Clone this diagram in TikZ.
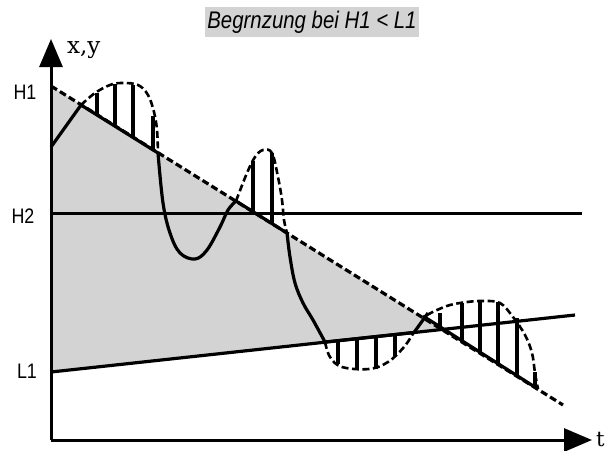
\documentclass[tikz,border=0pt]{standalone}
\usepackage{fontspec}
\usetikzlibrary{arrows.meta}
\newfontfamily\etiqfont[FakeStretch=0.85]{Liberation Sans}
\newfontfamily\axefont{DejaVu Serif}
\definecolor{fond}{RGB}{211,211,211}
\begin{document}
\begin{tikzpicture}[x=1pt, y=-1pt,
	axe/.style={line width=3pt, -{Triangle[length=28pt,width=23pt]}},
	courbe/.style={line width=3.2pt, line join=round},
	seuil/.style={line width=3.2pt, dash pattern=on 7pt off 3.5pt},
	hachure/.style={line width=3.2pt},
	etiq/.style={font=\etiqfont\fontsize{21}{23}\selectfont, inner sep=0pt}]
		\useasboundingbox (0,0) rectangle (609,450);
		%Points du diagramme
		\coordinate (O) at (51,440);
		\coordinate (Ytip) at (51,39);
		\coordinate (Xtip) at (592,440);
		\coordinate (H1) at (51,86);
		\coordinate (Hend) at (563,405);
		\coordinate (H2) at (51,213);
		\coordinate (H2end) at (582,213);
		\coordinate (L1) at (51,372);
		\coordinate (Lend) at (575,315);
		\coordinate (Cross) at (intersection of H1--Hend and L1--Lend);
		%Zone grise
		\fill[fond] (H1) -- (Cross) -- (L1) -- cycle;
		%Titre et textes
		\node[fill=fond, minimum width=214pt, minimum height=30pt, inner sep=0pt,
			font=\etiqfont\itshape\fontsize{24}{26}\selectfont] (titre) at (312,22) {Begrnzung bei H1 < L1};
		\node[anchor=base west, inner sep=0pt, font=\axefont\fontsize{23}{25}\selectfont] (xy) at (67,53) {x,y};
		\node[anchor=base west, inner sep=0pt, font=\axefont\fontsize{21}{23}\selectfont] (t) at (596,446) {t};
		\node[etiq] (lH1) at (25,92) {H1};
		\node[etiq] (lH2) at (23,216) {H2};
		\node[etiq] (lL1) at (27,371) {L1};
		%Seuils
		\draw[line width=3pt] (H2) -- (H2end);
		\draw[line width=3.2pt] (L1) -- (Lend);
		\draw[seuil] (H1) -- (Hend);
		%Signal (pointille)
		\draw[seuil, line width=2.6pt] plot[smooth, tension=0.6] coordinates {(81,105) (95,93) (110,85) (122,83) (138,85) (148,95) (154,112) (157,130) (158,153)};
		\draw[seuil, line width=2.6pt] plot[smooth, tension=0.6] coordinates {(236,201) (247,173) (255,157) (263,150) (272,153) (278,177) (282,200) (284,220) (287,233)};
		\draw[seuil, line width=2.6pt] plot[smooth, tension=0.6] coordinates {(325,342) (330,357) (342,367) (369,369) (388,362) (404,347) (414,332)};
		\draw[seuil, line width=2.6pt] plot[smooth, tension=0.6] coordinates {(427,315) (437,310) (450,305) (467,302) (483,301) (500,303) (513,317) (525,335) (532,353) (535,373) (538,389)};
		%Hachures
		\draw[hachure] (97,93) -- (97,115);
		\draw[hachure] (115,84) -- (115,126);
		\draw[hachure] (133,85) -- (133,137);
		\draw[hachure] (153,116) -- (153,149);
		\draw[hachure] (253,161) -- (253,212);
		\draw[hachure] (272,153) -- (272,224);
		\draw[hachure] (338,341) -- (338,364);
		\draw[hachure] (357,339) -- (357,369);
		\draw[hachure] (376,337) -- (376,369);
		\draw[hachure] (395,335) -- (395,356);
		\draw[hachure] (440,313) -- (440,329);
		\draw[hachure] (462,303) -- (462,342);
		\draw[hachure] (480,302) -- (480,353);
		\draw[hachure] (498,302) -- (498,364);
		\draw[hachure] (517,318) -- (517,376);
		\draw[hachure] (535,372) -- (535,387);
		%Signal limite (trait plein)
		\draw[courbe] (51,147) -- (81,105) -- (158,153);
		\draw[courbe] plot[smooth, tension=0.6] coordinates {(158,153) (163,203) (170,233) (180,253) (195,259) (207,250) (220,227) (228,210) (236,201)};
		\draw[courbe] (236,201) -- (287,233);
		\draw[courbe] plot[smooth, tension=0.6] coordinates {(287,233) (290,257) (295,283) (303,303) (313,320) (325,342)};
		\draw[courbe] (325,342) -- (414,332.5) -- (428,313);
		\draw[courbe] (423,316) -- (538,389);
		%Axes
		\draw[axe] (O) -- (Ytip);
		\draw[axe] (O) -- (Xtip);
		\end{tikzpicture}
\end{document}
